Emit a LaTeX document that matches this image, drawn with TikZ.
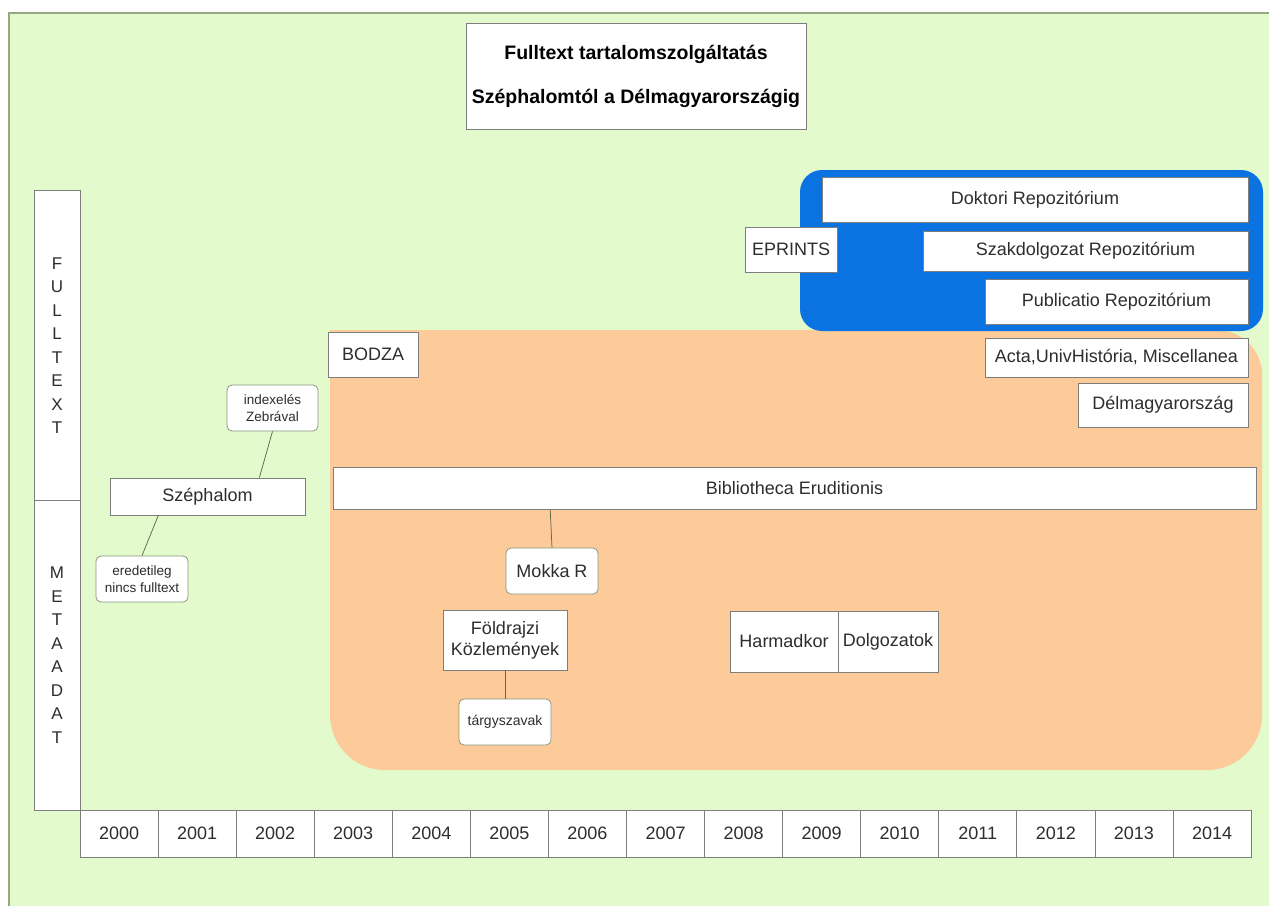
\documentclass[tikz,border=0pt]{standalone}
\usepackage{fontspec}
\setmainfont{Liberation Sans}

\tikzset{every picture/.style={line width=0.75pt}}
\tikzset{
  plainbox/.style={draw={rgb, 255:red, 125; green, 125; blue, 125 }, fill=white, inner sep=0pt, align=center, text={rgb, 255:red, 45; green, 45; blue, 45 }, font=\fontsize{18}{21}\selectfont},
  notebox/.style={plainbox, draw={rgb, 255:red, 135; green, 150; blue, 125 }, rounded corners=5pt, font=\fontsize{13.5}{16.5}\selectfont},
  yearbox/.style={plainbox, minimum width=78.07, minimum height=47},
  sidebox/.style={plainbox, minimum width=46, minimum height=309.5, font=\fontsize{17}{23.5}\selectfont},
  link/.style={draw={rgb, 255:red, 95; green, 105; blue, 80 }, line width=0.75pt}
}

\begin{document}
\begin{tikzpicture}[x=1pt,y=1pt,yscale=-1,xscale=1]
\useasboundingbox (0,0) rectangle (1269,906);

%Background
\fill [fill={rgb, 255:red, 227; green, 250; blue, 204 }] (9,13) rectangle (1269,906);
\draw [draw={rgb, 255:red, 150; green, 168; blue, 130 }, line width=1.5pt] (9,906) -- (9,13) -- (1269,13);

%Orange area
\fill [fill={rgb, 255:red, 252; green, 203; blue, 153 }] (330,330) [rounded corners=45pt] -- (1262,330) [rounded corners=55pt] -- (1262,770) -- (330,770) [sharp corners] -- cycle;
%Blue area
\fill [fill={rgb, 255:red, 10; green, 114; blue, 225 }, rounded corners=22pt] (800,170) rectangle (1263,331);

% Text Node
\draw (636,76) node (title) [plainbox, minimum width=340, minimum height=106, font=\fontsize{19.5}{44}\selectfont\bfseries, text=black] {Fulltext tartalomszolgáltatás\\Széphalomtól a Délmagyarországig};

% Side labels
\draw (57,345.5) node (full) [sidebox] {F\\U\\L\\L\\T\\E\\X\\T};
\draw (57,655) node (meta) [sidebox, minimum height=310] {M\\E\\T\\A\\A\\D\\A\\T};

% Years
\foreach \yr [count=\i from 0] in {2000,...,2014} {
  \draw ({119.03+78.07*\i},833.5) node (y\yr) [yearbox] {\yr};
}

% Repositories
\draw (1035,199.5) node (doktori) [plainbox, minimum width=426, minimum height=45] {Doktori Repozitórium};
\draw (791,249.5) node (eprints) [plainbox, minimum width=92, minimum height=45] {EPRINTS};
\draw (1085.5,251) node (szakd) [plainbox, minimum width=325, minimum height=40] {Szakdolgozat Repozitórium};
\draw (1116.5,301.5) node (publ) [plainbox, minimum width=263, minimum height=45] {Publicatio Repozitórium};
\draw (1116.5,357.5) node (acta) [plainbox, minimum width=263, minimum height=39] {Acta,UnivHistória, Miscellanea};
\draw (1163,405) node (delm) [plainbox, minimum width=170, minimum height=44] {Délmagyarország};

% Journals
\draw (373,354.5) node (bodza) [plainbox, minimum width=90, minimum height=45] {BODZA};
\draw (794.5,488) node (bibl) [plainbox, minimum width=923, minimum height=42] {Bibliotheca Eruditionis};
\draw (207.5,496.5) node (szep) [plainbox, minimum width=195, minimum height=37] {Széphalom};
\draw (505,640) node (foldr) [plainbox, minimum width=124, minimum height=60] {Földrajzi\\Közlemények};
\draw (784,641.5) node (harm) [plainbox, minimum width=108, minimum height=61] {Harmadkor};
\draw (888,641.5) node (dolg) [plainbox, minimum width=100, minimum height=61] {Dolgozatok};

% Notes
\draw (272.5,408) node (index) [notebox, minimum width=91, minimum height=46] {indexelés\\Zebrával};
\draw (142,579) node (eredet) [notebox, minimum width=92, minimum height=46] {eredetileg\\nincs fulltext};
\draw (552,571) node (mokka) [notebox, minimum width=92, minimum height=46, font=\fontsize{18}{21}\selectfont] {Mokka R};
\draw (505,722) node (targy) [notebox, minimum width=92, minimum height=46, font=\fontsize{14}{16}\selectfont] {tárgyszavak};

% Links
\draw [link] (index.south) -- (szep.20.5);
\draw [link] (szep.201) -- (eredet.north);
\draw [link] (bibl.185.2) -- (mokka.north);
\draw [link] (foldr.south) -- (targy.north);

\end{tikzpicture}
\end{document}
